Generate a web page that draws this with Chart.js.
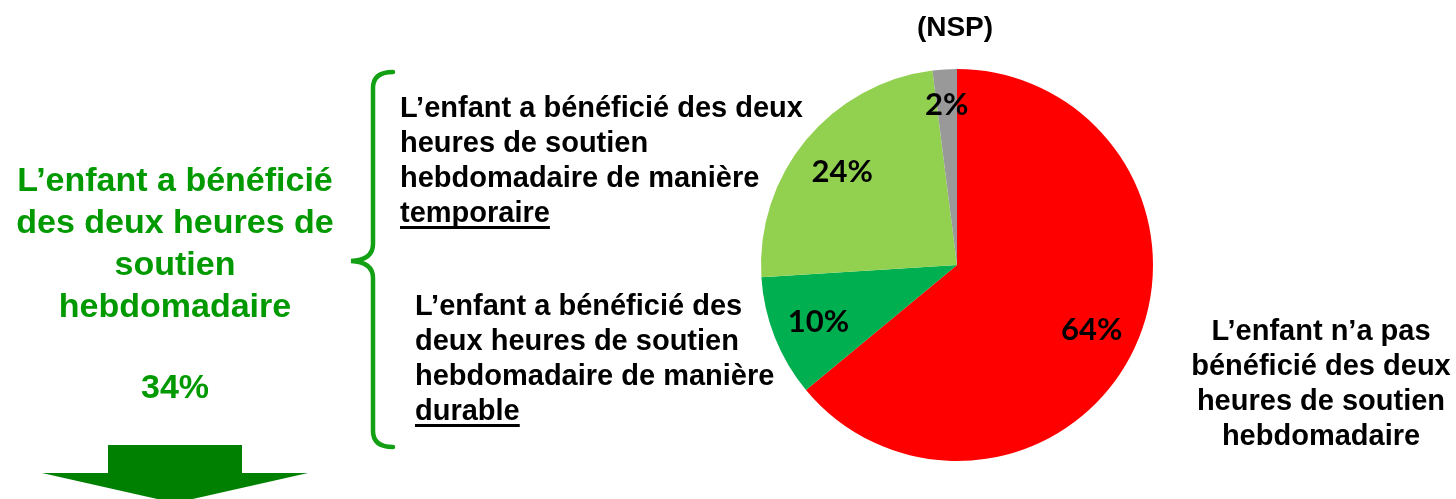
<!DOCTYPE html>
<html lang="fr">
<head>
<meta charset="utf-8">
<script src="https://cdn.jsdelivr.net/npm/chart.js@4"></script>
<style>
    html, body { margin: 0; padding: 0; background: #fff; }
    #wrap { position: relative; width: 1456px; height: 499px; overflow: hidden; }
    #pie { position: absolute; left: 0; top: 0; }
    .txt {
        position: absolute;
        font-family: "Liberation Sans", Arial, sans-serif;
        font-weight: bold;
        color: #000;
        white-space: nowrap;
    }
    .blk { font-size: 29px; line-height: 35px; }
    .green { color: #009900; font-size: 34px; line-height: 42px; text-align: center; width: 350px; left: 0; }
    u { text-decoration-thickness: 3px; text-underline-offset: 4px; text-decoration-skip-ink: none; }
</style>
</head>
<body>
<div id="wrap">
    <canvas id="pie" width="1456" height="499"></canvas>

    <div class="txt green" style="top:158px;">L’enfant a bénéficié<br>des deux heures de<br>soutien<br>hebdomadaire</div>
    <div class="txt green" style="top:365px;">34%</div>

    <div class="txt blk" style="left:400px; top:90px;">L’enfant a bénéficié des deux<br>heures de soutien<br>hebdomadaire de manière<br><u>temporaire</u></div>
    <div class="txt blk" style="left:415px; top:288px;">L’enfant a bénéficié des<br>deux heures de soutien<br>hebdomadaire de manière<br><u>durable</u></div>
    <div class="txt blk" style="left:1171px; top:313px; width:300px; text-align:center;">L’enfant n’a pas<br>bénéficié des deux<br>heures de soutien<br>hebdomadaire</div>
    <div class="txt" style="left:905px; top:10px; width:100px; text-align:center; font-size:28px; line-height:34px;">(NSP)</div>
</div>

<script>
// données du camembert
const categories = ["Pas bénéficié", "Durable", "Temporaire", "NSP"];
const values = [64, 10, 24, 2];
const sliceColors = ["#FF0000", "#00B050", "#92D050", "#999999"];

// accolade + flèche verte + étiquettes %
const decorPlugin = {
    id: 'decor',
    afterDatasetsDraw(chart) {
        const ctx = chart.ctx;
        const meta = chart.getDatasetMeta(0);
        ctx.save();
        ctx.fillStyle = '#000';
        ctx.font = 'bold 31px Lato, "Open Sans", sans-serif';
        ctx.textAlign = 'center';
        ctx.textBaseline = 'middle';
        meta.data.forEach(function (arc, i) {
            const mid = (arc.startAngle + arc.endAngle) / 2;
            const f = values[i] < 5 ? 0.83 : 0.76;
            const x = arc.x + Math.cos(mid) * arc.outerRadius * f;
            const y = arc.y + Math.sin(mid) * arc.outerRadius * f;
            ctx.fillText(values[i] + '%', x, y + 2);
        });
        ctx.restore();
    },
    afterDraw(chart) {
        const ctx = chart.ctx;
        ctx.save();
        // accolade
        ctx.strokeStyle = '#14A014';
        ctx.lineWidth = 4.5;
        ctx.lineCap = 'round';
        ctx.beginPath();
        ctx.moveTo(393, 72);
        ctx.quadraticCurveTo(373, 72, 373, 88);
        ctx.lineTo(373, 244);
        ctx.quadraticCurveTo(373, 260, 351, 261);
        ctx.quadraticCurveTo(373, 262, 373, 278);
        ctx.lineTo(373, 431);
        ctx.quadraticCurveTo(373, 447, 393, 447);
        ctx.stroke();
        // flèche
        ctx.fillStyle = '#008000';
        ctx.fillRect(108, 445, 134, 29);
        ctx.beginPath();
        ctx.moveTo(42, 473);
        ctx.lineTo(308, 473);
        ctx.lineTo(175, 503);
        ctx.closePath();
        ctx.fill();
        ctx.restore();
    }
};

new Chart(document.getElementById('pie'), {
    type: 'pie',
    data: {
        labels: categories,
        datasets: [{
            data: values,
            backgroundColor: sliceColors,
            borderWidth: 0,
            hoverOffset: 0
        }]
    },
    options: {
        responsive: false,
        animation: false,
        layout: {
            padding: { left: 761, right: 303, top: 69, bottom: 38 }
        },
        plugins: {
            legend: { display: false },
            tooltip: { enabled: false }
        }
    },
    plugins: [decorPlugin]
});
</script>
</body>
</html>
